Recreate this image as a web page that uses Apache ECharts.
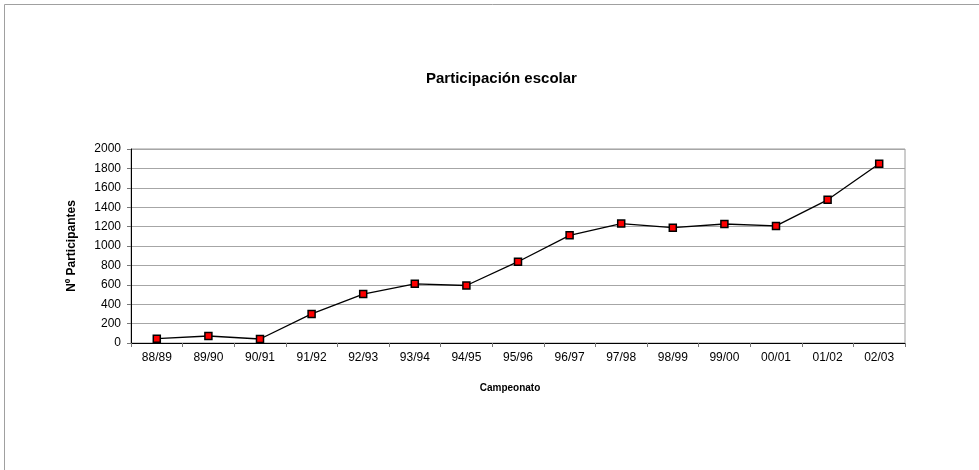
<!DOCTYPE html>
<html>
<head>
<meta charset="utf-8">
<script src="https://cdn.jsdelivr.net/npm/echarts@6/dist/echarts.min.js"></script>
<style>
  html, body { margin: 0; padding: 0; background: #fff; }
  #chart { width: 979px; height: 470px; }
</style>
</head>
<body>
<div id="chart"></div>
<script>
// temporadas del campeonato
const temporadas = ['88/89', '89/90', '90/91', '91/92', '92/93', '93/94', '94/95', '95/96',
  '96/97', '97/98', '98/99', '99/00', '00/01', '01/02', '02/03'];
// participantes
const participantes = [45, 72, 41, 300, 504, 610, 593, 838, 1110, 1231, 1189, 1227, 1207, 1476, 1848];

var chart = echarts.init(document.getElementById('chart'));
chart.setOption({
  animation: false,
  textStyle: { fontFamily: 'Liberation Sans, Arial, sans-serif' },
  title: {
    text: 'Participación escolar',
    left: 421,
    top: 66,
    textStyle: { fontSize: 15, fontWeight: 'bold', color: '#000' }
  },
  graphic: [{
    type: 'rect',
    shape: { x: 4.5, y: 4.5, width: 1000, height: 500 },
    style: { fill: 'none', stroke: '#a0a0a0', lineWidth: 1 },
    silent: true
  }],
  grid: {
    left: 131, top: 149, right: 74, bottom: 127,
    show: true,
    borderColor: '#9a9a9a',
    borderWidth: 1
  },
  xAxis: {
    type: 'category',
    data: temporadas,
    boundaryGap: true,
    name: 'Campeonato',
    nameLocation: 'middle',
    nameGap: 40,
    nameTextStyle: { fontSize: 10, fontWeight: 'bold', color: '#000', padding: [0, 16, 0, 0] },
    axisLine: { lineStyle: { color: '#000', width: 1 } },
    axisTick: { show: true, length: 4, lineStyle: { color: '#777' } },
    axisLabel: { fontSize: 12, color: '#000', margin: 9, interval: 0 },
    splitLine: { show: false }
  },
  yAxis: {
    type: 'value',
    min: 0, max: 2000, interval: 200,
    name: 'Nº Participantes',
    nameLocation: 'middle',
    nameGap: 53,
    nameRotate: 90,
    nameTextStyle: { fontSize: 12, fontWeight: 'bold', color: '#000' },
    axisLine: { show: true, lineStyle: { color: '#000', width: 1 } },
    axisTick: { show: true, length: 4, lineStyle: { color: '#777' } },
    axisLabel: { fontSize: 12, color: '#000', margin: 10, formatter: function (v) { return String(v); } },
    splitLine: { show: true, lineStyle: { color: '#a6a6a6', width: 1 } }
  },
  series: [{
    type: 'line',
    data: participantes,
    symbol: 'rect',
    symbolSize: 7,
    lineStyle: { color: '#000', width: 1.3 },
    itemStyle: { color: '#ff0000', borderColor: '#000', borderWidth: 1.5 }
  }]
});
</script>
</body>
</html>
